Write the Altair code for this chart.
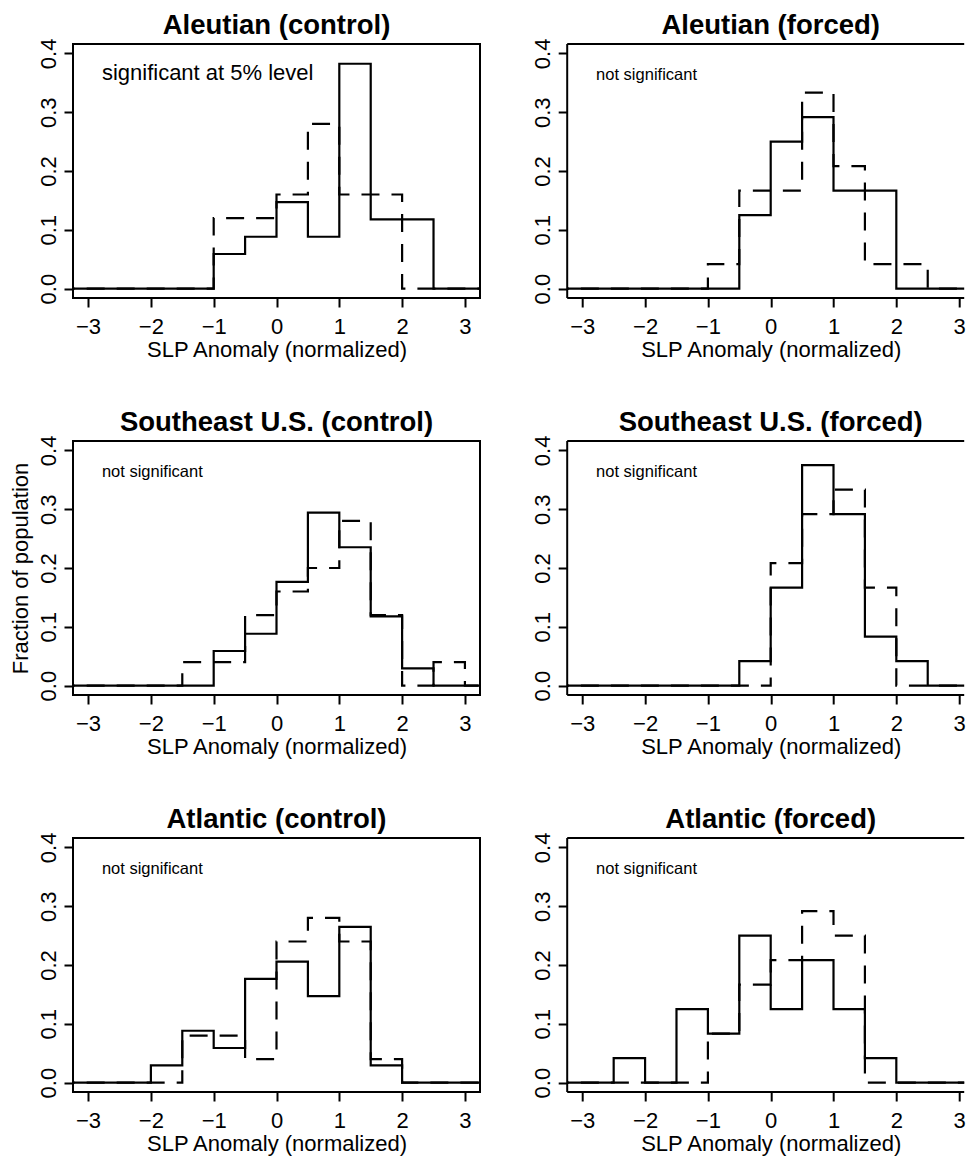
import altair as alt
import pandas as pd

# ---- data -------------------------------------------------------------
edges = [-3.5, -3.0, -2.5, -2.0, -1.5, -1.0, -0.5, 0.0, 0.5, 1.0, 1.5, 2.0, 2.5, 3.0, 3.5]

titles = ["Aleutian (control)", "Aleutian (forced)",
          "Southeast U.S. (control)", "Southeast U.S. (forced)",
          "Atlantic (control)", "Atlantic (forced)"]
notes = ["significant at 5% level", "not significant",
         "not significant", "not significant",
         "not significant", "not significant"]
note_big = [True, False, False, False, False, False]

# fraction of population per 0.5-wide bin (14 bins from -3.5 to 3.5)
solid = [
    [0, 0, 0, 0, 0, 0.0588, 0.0882, 0.1471, 0.0882, 0.3824, 0.1176, 0.1176, 0, 0],
    [0, 0, 0, 0, 0, 0, 0.125, 0.25, 0.2917, 0.1667, 0.1667, 0, 0, 0],
    [0, 0, 0, 0, 0, 0.0588, 0.0882, 0.1765, 0.2941, 0.2353, 0.1176, 0.0294, 0, 0],
    [0, 0, 0, 0, 0, 0, 0.0417, 0.1667, 0.375, 0.2917, 0.0833, 0.0417, 0, 0],
    [0, 0, 0, 0.0294, 0.0882, 0.0588, 0.1765, 0.2059, 0.1471, 0.2647, 0.0294, 0, 0, 0],
    [0, 0, 0.0417, 0, 0.125, 0.0833, 0.25, 0.125, 0.2083, 0.125, 0.0417, 0, 0, 0],
]
dashed = [
    [0, 0, 0, 0, 0, 0.12, 0.12, 0.16, 0.28, 0.16, 0.16, 0, 0, 0],
    [0, 0, 0, 0, 0, 0.0417, 0.1667, 0.1667, 0.3333, 0.2083, 0.0417, 0.0417, 0, 0],
    [0, 0, 0, 0, 0.04, 0.04, 0.12, 0.16, 0.20, 0.28, 0.12, 0, 0.04, 0],
    [0, 0, 0, 0, 0, 0, 0, 0.2083, 0.2917, 0.3333, 0.1667, 0, 0, 0],
    [0, 0, 0, 0, 0.08, 0.08, 0.04, 0.24, 0.28, 0.24, 0.04, 0, 0, 0],
    [0, 0, 0, 0, 0, 0.0833, 0.1667, 0.2083, 0.2917, 0.25, 0, 0, 0, 0],
]

x_ticks = [-3, -2, -1, 0, 1, 2, 3]
y_ticks = [0.0, 0.1, 0.2, 0.3, 0.4]
note_x = -2.78
note_y = 0.355

FONT = "Liberation Sans"
PW, PH = 407, 254          # left-column plot size
PW_R = 397                 # right column (cut at the page edge)
X_LO, X_HI = -3.24, 3.24
X_HI_R = X_LO + PW_R * (X_HI - X_LO) / PW


def panel(i):
    left_col = (i % 2 == 0)
    w = PW if left_col else PW_R
    xhi = X_HI if left_col else X_HI_R
    ytitle = "Fraction of population" if i == 2 else None
    s_df = pd.DataFrame({"x": edges, "y": solid[i] + [solid[i][-1]]})
    d_df = pd.DataFrame({"x": edges, "y": dashed[i] + [dashed[i][-1]]})
    t_df = pd.DataFrame({"x": [note_x], "y": [note_y], "label": [notes[i]]})
    h_df = pd.DataFrame({"t": [titles[i]]})

    xenc = alt.X("x:Q",
                 scale=alt.Scale(domain=[X_LO, xhi], nice=False, zero=False),
                 axis=alt.Axis(values=x_ticks, title="SLP Anomaly (normalized)",
                               domain=False, grid=False, tickSize=9, tickWidth=2,
                               tickColor="black", labelFlush=False,
                               labelExpr="replace(format(datum.value, 'd'), '-', '\u2212')",
                               labelBaseline="alphabetic", labelPadding=26,
                               labelFontSize=22, labelColor="black", labelFont=FONT,
                               titleFontSize=22, titleFontWeight="normal", titleColor="black",
                               titleFont=FONT, titleBaseline="alphabetic", titleY=58.5,
                               titleX=PW / 2, titleAlign="center"))
    yaxis_kw = dict(values=y_ticks, format=".1f", domain=False, grid=False,
                    tickSize=9, tickWidth=2, tickColor="black",
                    labelAngle=270, labelAlign="center", labelBaseline="alphabetic",
                    labelPadding=8.7, labelFontSize=22, labelColor="black", labelFont=FONT)
    if ytitle:
        yaxis_kw.update(title=ytitle, titleFontSize=22, titleFontWeight="normal",
                        titleColor="black", titleFont=FONT, titleAngle=270,
                        titleAlign="center", titleBaseline="alphabetic",
                        titleX=-45.2, titleY=PH / 2)
    else:
        yaxis_kw.update(title=None)
    yenc = alt.Y("y:Q",
                 scale=alt.Scale(domain=[-0.016, 0.416], nice=False, zero=False),
                 axis=alt.Axis(**yaxis_kw))

    solid_line = alt.Chart(s_df).mark_line(
        interpolate="step-after", color="black", strokeWidth=2.2, clip=True
    ).encode(x=xenc, y=yenc)
    dashed_line = alt.Chart(d_df).mark_line(
        interpolate="step-after", color="black", strokeWidth=2.2, clip=True,
        strokeDash=[18, 12]
    ).encode(x=xenc, y=yenc)
    txt = alt.Chart(t_df).mark_text(
        align="left", baseline="alphabetic", font=FONT,
        fontSize=22 if note_big[i] else 16.5, color="black"
    ).encode(x=xenc, y=yenc, text="label:N")
    head = alt.Chart(h_df).mark_text(
        align="center", baseline="alphabetic", font=FONT, fontSize=27.5,
        fontWeight="bold", color="black"
    ).encode(text="t:N", x=alt.value(PW / 2), y=alt.value(-10))

    layers = [solid_line, dashed_line, txt, head]
    props = dict(width=w, height=PH)
    if not left_col:
        one = pd.DataFrame({"k": [0]})
        rule = alt.Chart(one).mark_rule(color="black", strokeWidth=2)
        layers += [
            rule.encode(x=alt.value(0), x2=alt.value(w), y=alt.value(0)),
            rule.encode(x=alt.value(0), x2=alt.value(w), y=alt.value(PH)),
            rule.encode(x=alt.value(0), y=alt.value(0), y2=alt.value(PH)),
        ]
        props["view"] = alt.ViewBackground(stroke="transparent")
    return alt.layer(*layers).properties(**props)


chart = alt.concat(*[panel(i) for i in range(6)], columns=2,
                   spacing=alt.RowColnumber(row=143, column=87.2),
                   bounds="flush").properties(
    padding={"left": 0, "top": 3, "right": 0, "bottom": 0}
).configure(font=FONT, background="white").configure_view(
    stroke="black", strokeWidth=2
)

chart.save("out.html", embed_options={"renderer": "svg", "actions": False})
